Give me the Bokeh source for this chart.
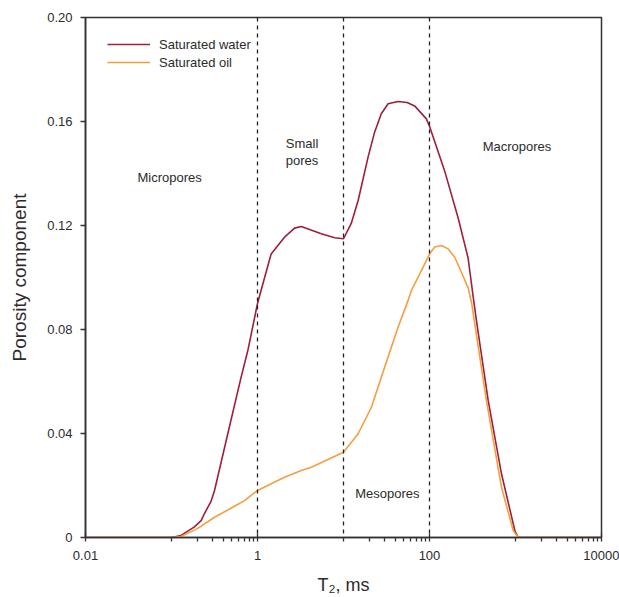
from bokeh.plotting import figure
from bokeh.models import Span, Label, FixedTicker
from bokeh.embed import file_html
from bokeh.resources import INLINE

# ---- data ----
t2_water = [0.01, 0.1, 0.129, 0.183, 0.221, 0.240, 0.289, 0.316, 0.452, 0.645, 0.773,
            1.0, 1.21, 1.44, 2.06, 2.70, 3.23, 5.52, 7.88, 10.0, 12.3, 14.8, 19.3,
            23.0, 27.5, 33.0, 43.1, 55.0, 67.2, 92.0, 100.5, 150, 215, 281, 324, 351,
            481, 687, 982, 1075, 10000]
water = [0, 0, 0.0008, 0.004, 0.0065, 0.009, 0.014, 0.018, 0.040, 0.0617, 0.072,
         0.090, 0.100, 0.109, 0.1155, 0.119, 0.1196, 0.1168, 0.1153, 0.1149, 0.1208,
         0.1296, 0.1463, 0.1559, 0.163, 0.1668, 0.1677, 0.1673, 0.1660, 0.161, 0.158,
         0.141, 0.123, 0.1075, 0.092, 0.0835, 0.0527, 0.0245, 0.0027, 0, 0]

t2_oil = [0.01, 0.1, 0.129, 0.202, 0.316, 0.540, 0.706, 1.0, 2.06, 3.23, 4.22, 10.0,
          14.8, 21.1, 30.1, 43.1, 56.4, 61.5, 76.0, 100.5, 115, 137.6, 165, 196.5,
          235, 281, 307.8, 459, 687, 940, 1075, 10000]
oil = [0, 0, 0.0004, 0.0035, 0.0078, 0.012, 0.0142, 0.0181, 0.0232, 0.0258, 0.027,
       0.0328, 0.0399, 0.0501, 0.0655, 0.0809, 0.0912, 0.095, 0.1010, 0.1091, 0.1117,
       0.1123, 0.111, 0.1078, 0.102, 0.096, 0.0905, 0.0527, 0.0193, 0.0027, 0, 0]

series_names = ["Saturated water", "Saturated oil"]
pore_boundaries = [1, 10, 100]
region_names = ["Micropores", "Small", "pores", "Mesopores", "Macropores"]

x_major = [0.01, 1, 100, 10000]
x_major_labels = ["0.01", "1", "100", "10000"]
x_minor = [0.1, 0.2, 0.3, 0.4, 0.5, 0.6, 0.7, 0.8, 0.9,
           10, 20, 30, 40, 50, 60, 70, 80, 90,
           1000, 2000, 3000, 4000, 5000, 6000, 7000, 8000, 9000]
y_major = [0, 0.04, 0.08, 0.12, 0.16, 0.20]
y_major_labels = ["0", "0.04", "0.08", "0.12", "0.16", "0.20"]
x_title = "T\u2082, ms"
y_title = "Porosity component"

FONT = "Liberation Sans"
TXT = "#2b2b2b"
AX = "#333333"
WATER_C = "#9e1f3a"
OIL_C = "#f2a03f"

p = figure(width=619, height=597, x_axis_type="log",
           x_range=(0.01, 10000), y_range=(0, 0.2),
           output_backend="svg", toolbar_location=None,
           min_border_left=85, min_border_right=18,
           min_border_top=17, min_border_bottom=60)

p.xgrid.visible = False
p.ygrid.visible = False
p.outline_line_color = AX
p.outline_line_width = 1.5
p.background_fill_color = "white"
p.border_fill_color = "white"

# dashed pore-class boundaries
for b in pore_boundaries:
    p.add_layout(Span(location=b, dimension="height", line_color="#222222",
                      line_width=1.3, line_dash="4 4"))

p.line(t2_water, water, line_color=WATER_C, line_width=1.6, legend_label=series_names[0])
p.line(t2_oil, oil, line_color=OIL_C, line_width=1.6, legend_label=series_names[1])

# axes
xa = p.xaxis[0]
xa.ticker = FixedTicker(ticks=x_major, minor_ticks=x_minor)
xa.major_label_overrides = dict(zip(x_major, x_major_labels))
xa.major_tick_in = 4
xa.major_tick_out = 4
xa.minor_tick_in = 0
xa.minor_tick_out = 4
xa.major_label_standoff = 9
xa.axis_line_width = 1.6
xa.axis_line_color = AX
xa.major_tick_line_color = AX
xa.minor_tick_line_color = AX
xa.major_tick_line_width = 1.3
xa.minor_tick_line_width = 1.3
xa.major_label_text_font = FONT
xa.major_label_text_font_size = "13px"
xa.major_label_text_color = TXT
xa.axis_label = x_title
xa.axis_label_text_font = FONT
xa.axis_label_text_font_size = "18px"
xa.axis_label_text_font_style = "normal"
xa.axis_label_text_color = TXT
xa.axis_label_standoff = 12

ya = p.yaxis[0]
ya.ticker = FixedTicker(ticks=y_major, minor_ticks=[])
ya.major_label_overrides = dict(zip(y_major, y_major_labels))
ya.major_tick_in = 0
ya.major_tick_out = 5
ya.minor_tick_in = 0
ya.minor_tick_out = 0
ya.major_label_standoff = 8
ya.axis_line_width = 1.6
ya.axis_line_color = AX
ya.major_tick_line_color = AX
ya.major_tick_line_width = 1.3
ya.major_label_text_font = FONT
ya.major_label_text_font_size = "13px"
ya.major_label_text_color = TXT
ya.axis_label = y_title
ya.axis_label_text_font = FONT
ya.axis_label_text_font_size = "19px"
ya.axis_label_text_font_style = "normal"
ya.axis_label_text_color = TXT
ya.axis_label_standoff = 14


def add_text(x, y, text, size):
    p.add_layout(Label(x=x, y=y, text=text, text_font=FONT, text_font_size=size,
                       text_color=TXT, text_align="center", text_baseline="middle"))


# region labels
add_text(0.095, 0.1386, region_names[0], "13px")
add_text(3.30, 0.1515, region_names[1], "13px")
add_text(3.30, 0.1450, region_names[2], "13px")
add_text(32.4, 0.0169, region_names[3], "13px")
add_text(1041, 0.1504, region_names[4], "13px")

# legend
lg = p.legend[0]
lg.location = (22, 466)
lg.padding = 0
lg.margin = 0
lg.spacing = 0
lg.border_line_color = None
lg.background_fill_alpha = 0
lg.glyph_width = 43
lg.glyph_height = 18
lg.label_height = 18
lg.label_standoff = 9
lg.label_text_font = FONT
lg.label_text_font_size = "13px"
lg.label_text_color = TXT

open("out.html", "w").write(file_html(p, INLINE))
